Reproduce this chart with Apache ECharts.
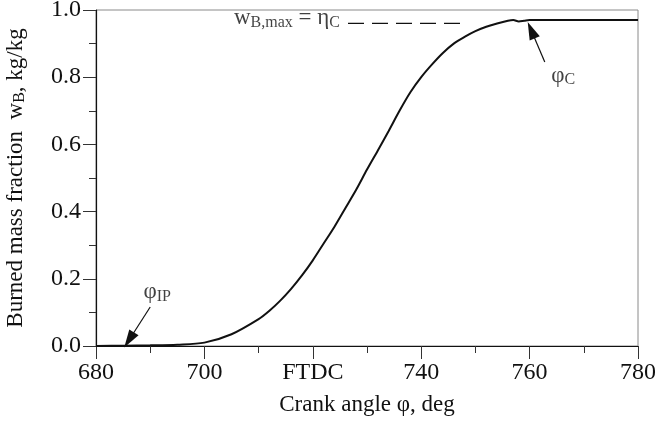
<!DOCTYPE html>
<html>
<head>
<meta charset="utf-8">
<script src="https://cdn.jsdelivr.net/npm/echarts@6/dist/echarts.min.js"></script>
<style>
  html, body { margin: 0; padding: 0; background: #fff; }
  #chart { width: 655px; height: 426px; }
</style>
</head>
<body>
<div id="chart"></div>
<script>
// Burned mass fraction vs crank angle
const crankAngle = [680, 685, 690, 695, 700, 705, 710, 712, 714, 716, 718, 720, 722, 724, 726, 728, 730, 732, 734, 736, 738, 740, 742, 744, 746, 748, 750, 752, 754, 756, 757, 758, 759, 760, 770, 780];
const burnedFraction = [0, 0.001, 0.002, 0.004, 0.01, 0.035, 0.08, 0.105, 0.135, 0.17, 0.21, 0.255, 0.305, 0.355, 0.41, 0.465, 0.525, 0.582, 0.64, 0.70, 0.755, 0.80, 0.838, 0.872, 0.9, 0.92, 0.937, 0.95, 0.96, 0.968, 0.97, 0.966, 0.968, 0.97, 0.97, 0.97];

// Combustion efficiency level and its dashed reference line
const etaC = 0.96;
const dashSpan = [726.5, 748];

// Annotation anchors (crank angle, burned fraction)
const ipArrow = [[690, 0.116], [686.1, 0.018]];
const cArrow = [[762.8, 0.845], [760.3, 0.94]];
const ipLabelAt = [691.3, 0.16];
const cLabelAt = [766.2, 0.805];
const maxLabelAt = [725, 0.975];

const xTickLabels = { 680: '680', 700: '700', 720: 'FTDC', 740: '740', 760: '760', 780: '780' };

const FONT = '"Liberation Serif", "Times New Roman", serif';
const subStyle = { fontFamily: FONT, fontSize: 16, color: '#111', verticalAlign: 'bottom', padding: [9, 0, 0, 0] };
const mainStyle = { fontFamily: FONT, fontSize: 23, color: '#111' };
const nameMain = { fontFamily: FONT, fontSize: 23, color: '#111' };
const nameSub = { fontFamily: FONT, fontSize: 16, color: '#111', verticalAlign: 'bottom', padding: [9, 0, 0, 0] };

const chart = echarts.init(document.getElementById('chart'), null, { renderer: 'canvas' });

chart.setOption({
  animation: false,
  backgroundColor: '#fff',
  grid: {
    left: 96, right: 17, top: 10, bottom: 80,
    containLabel: false, outerBoundsMode: 'none',
    show: true, borderColor: '#8a8a8a', borderWidth: 1
  },
  xAxis: {
    type: 'value', min: 680, max: 780, interval: 20,
    name: 'Crank angle φ, deg', nameLocation: 'middle', nameGap: 47,
    nameTextStyle: { fontFamily: FONT, fontSize: 23, color: '#111' },
    axisLine: { lineStyle: { color: '#111', width: 1.2 } },
    axisTick: { inside: false, length: 13, lineStyle: { color: '#333' } },
    minorTick: { show: true, splitNumber: 2, length: 7, lineStyle: { color: '#333' } },
    splitLine: { show: false },
    axisLabel: { fontFamily: FONT, fontSize: 24, color: '#111', margin: 15,
      formatter: v => xTickLabels[v] !== undefined ? xTickLabels[v] : '' }
  },
  yAxis: {
    type: 'value', min: 0, max: 1, interval: 0.2,
    name: '{m|Burned mass fraction  w}{s|B}{m|, kg/kg}', nameLocation: 'middle', nameGap: 68,
    nameTextStyle: { rich: { m: nameMain, s: nameSub } },
    axisLine: { lineStyle: { color: '#111', width: 1.2 } },
    axisTick: { inside: false, length: 13, lineStyle: { color: '#333' } },
    minorTick: { show: true, splitNumber: 2, length: 7, lineStyle: { color: '#333' } },
    splitLine: { show: false },
    axisLabel: { fontFamily: FONT, fontSize: 24, color: '#111', margin: 15,
      formatter: v => v.toFixed(1) }
  },
  series: [
    {
      name: 'burned', type: 'line', smooth: 0.3, symbol: 'none',
      data: crankAngle.map((a, i) => [a, burnedFraction[i]]),
      lineStyle: { color: '#111', width: 2 },
      z: 5
    },
    {
      name: 'etaC', type: 'line', symbol: 'none',
      data: dashSpan.map(a => [a, etaC]),
      lineStyle: { color: '#111', width: 1.2, type: [16, 8] }
    },
    {
      name: 'arrows', type: 'line', symbol: 'none', data: [],
      markLine: {
        silent: true, symbol: ['none', 'triangle'], symbolSize: [0, 16],
        lineStyle: { color: '#111', width: 1.2, type: 'solid' },
        label: { show: false },
        data: [
          [{ coord: ipArrow[0] }, { coord: ipArrow[1], symbolSize: [11, 18] }],
          [{ coord: cArrow[0] }, { coord: cArrow[1], symbolSize: [11, 18] }]
        ]
      }
    },
    {
      name: 'notes', type: 'scatter', symbolSize: 0,
      data: [
        { value: ipLabelAt, label: { formatter: '{m|φ}{s|IP}', align: 'center' } },
        { value: cLabelAt, label: { formatter: '{m|φ}{s|C}', align: 'center' } },
        { value: maxLabelAt, label: { formatter: '{m|w}{s|B,max}{m| = η}{s|C}', align: 'right' } }
      ],
      label: {
        show: true, position: 'inside', verticalAlign: 'middle',
        rich: { m: mainStyle, s: subStyle }
      }
    }
  ]
});
</script>
</body>
</html>
